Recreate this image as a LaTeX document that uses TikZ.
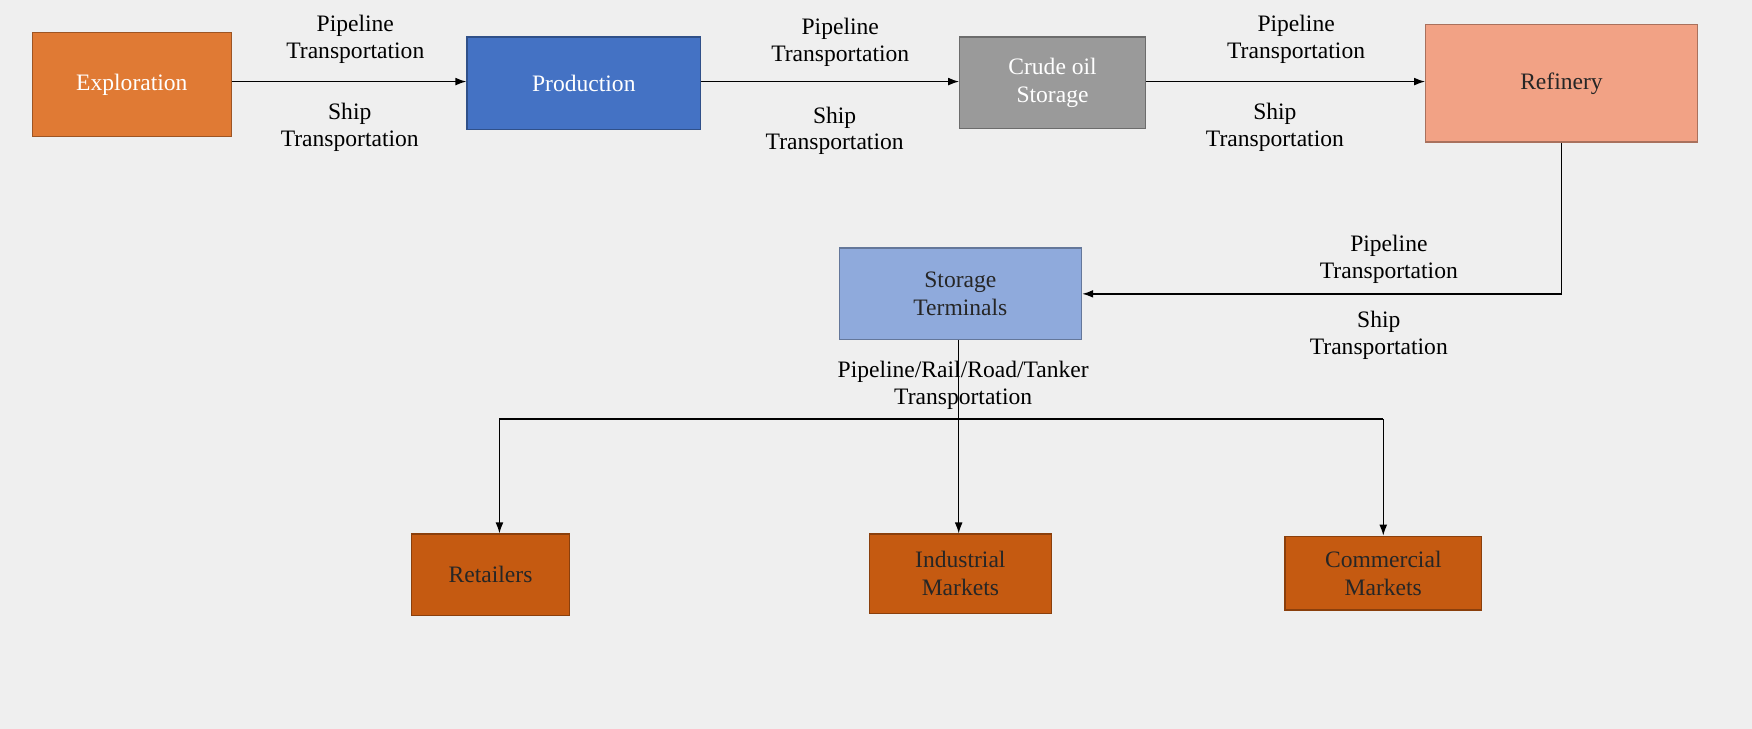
\documentclass[tikz,border=0pt]{standalone}
\usepackage{fontspec}
\setmainfont{Liberation Serif}
\usetikzlibrary{arrows.meta}
\begin{document}
\begin{tikzpicture}[x=0.025cm,y=-0.025cm,
 font=\fontsize{15}{18}\selectfont,
 box/.style={draw=#1!70!black,line width=0.8pt,inner sep=0pt,align=center},
 lbl/.style={align=center,font=\fontsize{15}{17}\selectfont},
 arr/.style={line width=0.9pt,-{Latex[length=7pt,width=5pt]}}]
\definecolor{bg}{HTML}{EFEFEF}
\definecolor{expc}{HTML}{E07A34}
\definecolor{proc}{HTML}{4472C4}
\definecolor{crc}{HTML}{9A9A9A}
\definecolor{refc}{HTML}{F2A285}
\definecolor{stc}{HTML}{8FAADC}
\definecolor{mkc}{HTML}{C55A11}
\fill[bg] (0,0) rectangle (1568,652);
\useasboundingbox (0,0) rectangle (1568,652);
\node[box=expc,fill=expc,text=white,minimum width=178*0.025cm,minimum height=93*0.025cm] (exp) at (118,75.5) {Exploration};
\node[box=proc,fill=proc,text=white,minimum width=209*0.025cm,minimum height=83*0.025cm] (pro) at (522.5,74.5) {Production};
\node[box=crc,fill=crc,text=white,minimum width=166*0.025cm,minimum height=82*0.025cm] (cru) at (942,74) {Crude oil\\Storage};
\node[box=refc,fill=refc,text=black!85,minimum width=243*0.025cm,minimum height=105*0.025cm] (ref) at (1397.5,74.5) {Refinery};
\node[box=stc,fill=stc,text=black!85,minimum width=217*0.025cm,minimum height=82*0.025cm] (st) at (859.5,263) {Storage\\Terminals};
\node[box=mkc,fill=mkc,text=black!85,minimum width=142*0.025cm,minimum height=73*0.025cm] (ret) at (439,514.5) {Retailers};
\node[box=mkc,fill=mkc,text=black!85,minimum width=163*0.025cm,minimum height=71*0.025cm] (ind) at (859.5,513.5) {Industrial\\Markets};
\node[box=mkc,fill=mkc,text=black!85,minimum width=176*0.025cm,minimum height=66*0.025cm] (com) at (1238,513) {Commercial\\Markets};
\draw[arr] (exp.east|-0,73) -- (pro.west|-0,73);
\draw[arr] (pro.east|-0,73) -- (cru.west|-0,73);
\draw[arr] (cru.east|-0,73) -- (ref.west|-0,73);
\draw[arr] (ref.south) |- (st.east);
\coordinate (j) at (858,375);
\draw[line width=0.9pt] (st.south-|j) -- (j);
\draw[line width=0.9pt] (447,375) -- (1238,375);
\draw[arr] (j) -- (j|-ind.north);
\draw[arr] (447,375) -- (447,0|-ret.north);
\draw[arr] (1238,375) -- (1238,0|-com.north);
\node[lbl] (l1) at (318,35) {Pipeline\\Transportation};
\node[lbl] (l2) at (313,114) {Ship\\Transportation};
\node[lbl] (l3) at (752,38) {Pipeline\\Transportation};
\node[lbl] (l4) at (747,117) {Ship\\Transportation};
\node[lbl] (l5) at (1160,35) {Pipeline\\Transportation};
\node[lbl] (l6) at (1141,114) {Ship\\Transportation};
\node[lbl] (l7) at (1243,232) {Pipeline\\Transportation};
\node[lbl] (l8) at (1234,300) {Ship\\Transportation};
\node[lbl] (l9) at (862,345) {Pipeline/Rail/Road/Tanker\\Transportation};
\end{tikzpicture}
\end{document}
